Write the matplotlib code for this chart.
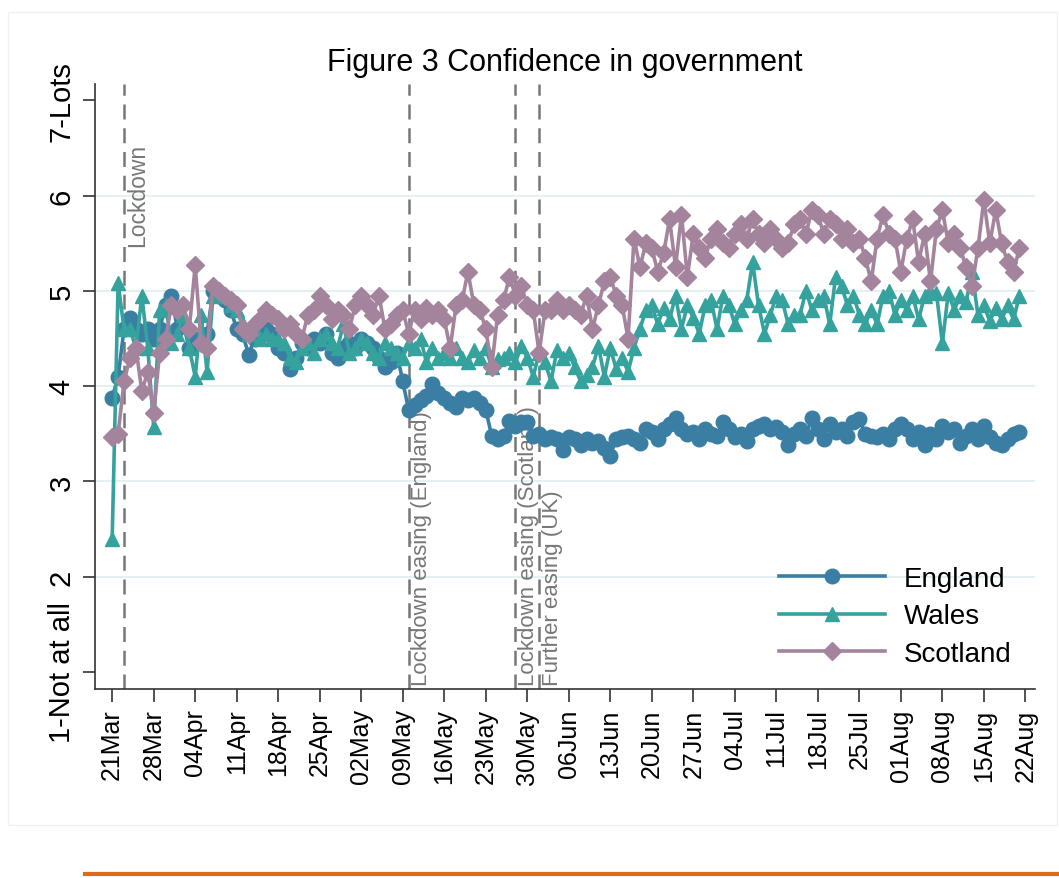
"""
Figure 3 - confidence in government, daily means by nation
"""
import matplotlib
matplotlib.use('Agg')
import matplotlib.pyplot as plt
import pandas as pd

plt.rcParams['font.family'] = ['Liberation Sans', 'DejaVu Sans']

# daily values, 21 Mar - 21 Aug (month by month)
england = [3.88, 4.10, 4.60, 4.72, 4.60, 4.55, 4.60, 4.50, 4.60, 4.85, 4.95,  # Mar
           4.60, 4.65, 4.40, 4.50, 4.45, 4.55, 5.00, 4.95, 4.90, 4.80, 4.60, 4.55, 4.33, 4.50, 4.55,
           4.60, 4.55, 4.40, 4.35, 4.18, 4.30, 4.45, 4.40, 4.50, 4.45, 4.55, 4.35, 4.30, 4.40, 4.45,  # Apr
           4.40, 4.50, 4.45, 4.40, 4.30, 4.20, 4.25, 4.35, 4.05, 3.75, 3.80, 3.85, 3.90, 4.02, 3.93,
           3.88, 3.82, 3.78, 3.88, 3.85, 3.88, 3.82, 3.75, 3.48, 3.45, 3.48, 3.63, 3.58, 3.62, 3.62,
           3.48,  # May
           3.50, 3.45, 3.47, 3.45, 3.33, 3.47, 3.45, 3.38, 3.45, 3.40, 3.42, 3.35, 3.27, 3.45, 3.47,
           3.48, 3.45, 3.40, 3.55, 3.52, 3.45, 3.55, 3.60, 3.67, 3.55, 3.50, 3.52, 3.45, 3.55, 3.50,  # Jun
           3.48, 3.62, 3.55, 3.47, 3.50, 3.42, 3.55, 3.58, 3.60, 3.55, 3.57, 3.52, 3.38, 3.50, 3.55,
           3.48, 3.67, 3.55, 3.45, 3.60, 3.52, 3.55, 3.48, 3.62, 3.65, 3.50, 3.48, 3.47, 3.50, 3.45,
           3.55,  # Jul
           3.60, 3.55, 3.45, 3.52, 3.38, 3.50, 3.45, 3.58, 3.52, 3.55, 3.40, 3.48, 3.55, 3.45, 3.58,
           3.47, 3.40, 3.38, 3.45, 3.50, 3.52]  # Aug

wales = [2.40, 5.08, 4.60, 4.60, 4.40, 4.95, 4.40, 3.57, 4.80, 4.85, 4.45,  # Mar
         4.55, 4.75, 4.40, 4.10, 4.75, 4.15, 4.95, 5.00, 4.95, 4.85, 4.80, 4.65, 4.55, 4.60, 4.50,
         4.55, 4.50, 4.50, 4.45, 4.30, 4.25, 4.40, 4.45, 4.35, 4.50, 4.55, 4.45, 4.40, 4.65, 4.35,  # Apr
         4.40, 4.50, 4.45, 4.35, 4.30, 4.45, 4.40, 4.35, 4.30, 4.45, 4.40, 4.50, 4.25, 4.40, 4.30,
         4.35, 4.30, 4.40, 4.30, 4.25, 4.38, 4.30, 4.40, 4.20, 4.28, 4.30, 4.35, 4.25, 4.42, 4.30,
         4.10,  # May
         4.35, 4.25, 4.05, 4.38, 4.30, 4.35, 4.20, 4.05, 4.12, 4.20, 4.42, 4.10, 4.40, 4.18, 4.30,
         4.15, 4.40, 4.60, 4.80, 4.85, 4.65, 4.82, 4.70, 4.95, 4.60, 4.85, 4.72, 4.55, 4.85, 4.90,  # Jun
         4.60, 4.95, 4.85, 4.65, 4.80, 4.90, 5.30, 4.85, 4.55, 4.75, 4.95, 4.90, 4.65, 4.75, 4.75,
         5.00, 4.80, 4.90, 4.95, 4.65, 5.15, 5.05, 4.85, 4.95, 4.75, 4.65, 4.80, 4.65, 4.95, 5.00,
         4.75,  # Jul
         4.90, 4.80, 4.95, 4.70, 4.95, 5.00, 4.98, 4.45, 4.98, 4.80, 4.95, 4.88, 5.20, 4.75, 4.85,
         4.68, 4.82, 4.70, 4.85, 4.70, 4.95]  # Aug

scotland = [3.47, 3.50, 4.05, 4.30, 4.40, 3.95, 4.15, 3.72, 4.35, 4.50, 4.85,  # Mar
            4.80, 4.85, 4.60, 5.27, 4.45, 4.40, 5.05, 5.00, 4.95, 4.90, 4.85, 4.60, 4.55, 4.65, 4.70,
            4.80, 4.75, 4.70, 4.60, 4.65, 4.55, 4.50, 4.75, 4.80, 4.95, 4.85, 4.70, 4.80, 4.75, 4.60,  # Apr
            4.85, 4.95, 4.85, 4.75, 4.95, 4.60, 4.65, 4.75, 4.80, 4.55, 4.80, 4.70, 4.82, 4.75, 4.80,
            4.70, 4.40, 4.85, 4.90, 5.20, 4.85, 4.80, 4.60, 4.20, 4.75, 4.90, 5.15, 4.95, 5.05, 4.85,
            4.80,  # May
            4.35, 4.80, 4.80, 4.90, 4.80, 4.85, 4.80, 4.75, 4.95, 4.60, 4.85, 5.10, 5.15, 4.95, 4.85,
            4.50, 5.55, 5.25, 5.50, 5.45, 5.20, 5.40, 5.75, 5.25, 5.80, 5.15, 5.60, 5.45, 5.35, 5.55,  # Jun
            5.65, 5.50, 5.45, 5.60, 5.70, 5.55, 5.75, 5.60, 5.50, 5.65, 5.55, 5.45, 5.50, 5.70, 5.75,
            5.60, 5.85, 5.80, 5.60, 5.75, 5.70, 5.55, 5.65, 5.50, 5.55, 5.35, 5.10, 5.55, 5.80, 5.60,
            5.55,  # Jul
            5.20, 5.55, 5.75, 5.30, 5.60, 5.10, 5.65, 5.85, 5.50, 5.60, 5.45, 5.25, 5.05, 5.45, 5.95,
            5.50, 5.85, 5.50, 5.30, 5.20, 5.45]  # Aug

dates = pd.date_range('2020-03-21', periods=len(england), freq='D')

events = ['2020-03-23', '2020-05-10', '2020-05-28', '2020-06-01']
event_labels = ['Lockdown', 'Lockdown easing (England)', 'Lockdown easing (Scotland)', 'Further easing (UK)']

y_ticks = [1, 2, 3, 4, 5, 6, 7]
y_labels = ['1-Not at all', '2', '3', '4', '5', '6', '7-Lots']

fig = plt.figure(figsize=(10.59, 8.79), dpi=100)
ax = fig.add_axes([0.0897, 0.215, 0.8875, 0.688])

c_eng = '#3a7fa3'
c_wal = '#35a29e'
c_sco = '#a4849c'
c_evt = '#777777'

for yy in [2, 3, 4, 5, 6]:
    ax.axhline(yy, color='#e6eff1', lw=1.5, zorder=0)

for d in events:
    ax.axvline(pd.Timestamp(d), color=c_evt, lw=1.8, ls=(0, (6, 3.5)), zorder=1)

# event labels: lockdown near the top, the rest from the x axis upward
ax.text(pd.Timestamp(events[0]) + pd.Timedelta(days=0.4), 6.55, event_labels[0], rotation=90,
        va='top', ha='left', fontsize=16.5, color=c_evt)
for d, lab in zip(events[1:], event_labels[1:]):
    ax.text(pd.Timestamp(d) + pd.Timedelta(days=0.4), 0.86, lab, rotation=90, va='bottom', ha='left',
            fontsize=16, color=c_evt)

ax.plot(dates, england, color=c_eng, lw=2.6, marker='o', ms=10.5, label='England', zorder=3)
ax.plot(dates, wales, color=c_wal, lw=2.6, marker='^', ms=10.5, label='Wales', zorder=4)
ax.plot(dates, scotland, color=c_sco, lw=2.6, marker='D', ms=9, label='Scotland', zorder=5)

ax.set_xlim(pd.Timestamp('2020-03-21') - pd.Timedelta(days=2.9),
            pd.Timestamp('2020-03-21') + pd.Timedelta(days=155.6))
ax.set_ylim(0.82, 7.17)

xt = pd.date_range('2020-03-21', '2020-08-22', freq='7D')
ax.set_xticks(xt)
ax.set_xticklabels([d.strftime('%d%b') for d in xt], rotation=90, fontsize=18)
ax.set_yticks(y_ticks)
ax.set_yticklabels(y_labels, rotation=90, fontsize=21, va='center')

ax.tick_params(axis='both', direction='out', length=9, width=1.2, color='#333333', pad=5)
ax.spines['top'].set_visible(False)
ax.spines['right'].set_visible(False)
ax.spines['left'].set_color('#333333')
ax.spines['bottom'].set_color('#333333')
ax.spines['left'].set_linewidth(1.2)
ax.spines['bottom'].set_linewidth(1.2)

ax.set_title('Figure 3 Confidence in government', fontsize=22, pad=10)

ax.legend(loc='lower right', bbox_to_anchor=(1.002, -0.005), frameon=False, fontsize=20,
          handlelength=3.8, handletextpad=0.7, labelspacing=0.42)

# faint frame round the graph area and the orange rule below it
fig.patches.append(plt.Rectangle((0.008, 0.06), 0.99, 0.925, transform=fig.transFigure,
                                 fill=False, ec='#f0f0f0', lw=1))
fig.add_artist(plt.Line2D([0.08, 1.0], [0.004, 0.004], transform=fig.transFigure,
                          color='#e06a1c', lw=3))

fig.savefig('out.png', dpi=100)
